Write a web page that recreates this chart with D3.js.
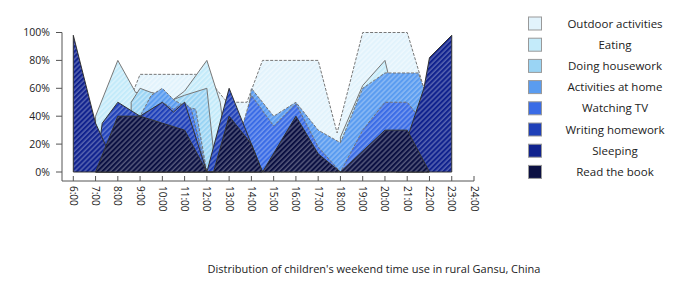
<!DOCTYPE html>
<html>
<head>
<meta charset="utf-8">
<script src="https://cdn.jsdelivr.net/npm/d3@7"></script>
<style>
  body { margin: 0; background: #fff; }
  text { font-family: "Open Sans", "Noto Sans", sans-serif; fill: #222; }
</style>
</head>
<body>
<div class="svg"></div>
<script>
// categories, back to front
var categories = ["Outdoor activities", "Eating", "Doing housework", "Activities at home",
    "Watching TV", "Writing homework", "Sleeping", "Read the book"];
var hourTicks = [6, 7, 8, 9, 10, 11, 12, 13, 14, 15, 16, 17, 18, 19, 20, 21, 22, 23, 24];
var hourLabels = ["6:00", "7:00", "8:00", "9:00", "10:00", "11:00", "12:00", "13:00", "14:00",
    "15:00", "16:00", "17:00", "18:00", "19:00", "20:00", "21:00", "22:00", "23:00", "24:00"];
var pctTicks = [0, 20, 40, 60, 80, 100];

// [hour, percent of children]; null splits a series
var outdoor = [[8.7, 0], [8.7, 58], [9, 70], [11.5, 70], [12, 68], [12.8, 52], [13, 50], [13.8, 50],
    [14.5, 80], [17, 80], [17.85, 28], [19, 100], [21, 100], [21.75, 60], [22, 0]];
var eating = [[7, 0], [7, 40], [8, 80], [8.8, 57], [9.5, 57], [10.5, 52], [11, 58], [12, 80],
    [12.6, 50], [13, 0], null, [18, 0], [18, 25], [19, 62], [20, 80], [20.15, 70], [20.15, 0]];
var housework = [[8.6, 0], [8.6, 50], [9, 60], [9.5, 57], [10, 55], [10.5, 52], [11, 55], [12, 60],
    [12.3, 15], [12.4, 0]];
var homeActs = [[8.5, 0], [8.5, 42], [9, 40], [9.5, 55], [10, 60], [10.5, 52], [11, 47], [11.5, 45],
    [12, 0], null, [13.5, 0], [14, 60], [15, 40], [16, 50], [17, 30], [18, 21], [19, 60], [20, 71],
    [21.5, 71], [21.75, 60], [21.75, 0]];
var tv = [[7.5, 0], [8, 40], [9, 40], [10, 50], [10.5, 45], [11, 50], [11.3, 45], [12, 0], null,
    [13, 0], [14, 55], [15, 33], [16, 49], [17, 18], [18, 0], [19, 30], [20, 50], [21, 50], [21.5, 40],
    [21.75, 30], [21.75, 0]];
var homework = [[7, 0], [7.3, 35], [8, 50], [9, 40], [10, 50], [10.5, 43], [11, 50], [12, 0],
    [13, 60], [14.5, 0]];
var sleeping = [[6, 0], [6, 98], [7, 35], [8, 0], null, [20.5, 0], [21.75, 60], [22, 82], [23, 98], [23, 0]];
var reading = [[7, 0], [8, 40], [9, 40], [10, 35], [11, 30], [12, 0], [12.3, 0], [13, 40], [14, 20],
    [14.5, 0], [16, 40], [17, 13], [18, 0], [20, 30], [21, 30], [22, 0]];

var seriesList = [outdoor, eating, housework, homeActs, tv, homework, sleeping, reading];
var fills = ["#e2f3fc", "#c4ebfa", "#9ad4f4", "#5a9cf0", "#3a6ce6", "#1f40b8", "#10228e", "#0b1042"];
var dashed = [true, false, false, true, true, false, false, false];

var width = 700, height = 287;

var svg = d3.select('div.svg')
    .append('svg')
    .attr('width', width)
    .attr('height', height);

var x = d3.scaleLinear().domain([6, 24]).range([73.3, 474]);
var y = d3.scaleLinear().domain([0, 100]).range([172, 32.5]);

// hatch patterns
var defs = svg.append('defs');
fills.forEach(function (c, i) {
    var p = defs.append('pattern')
        .attr('id', 'hatch' + i)
        .attr('patternUnits', 'userSpaceOnUse')
        .attr('width', 3.6)
        .attr('height', 3.6)
        .attr('patternTransform', 'rotate(45)');
    p.append('rect').attr('width', 3.6).attr('height', 3.6).attr('fill', c);
    p.append('line')
        .attr('x1', 1).attr('y1', 0).attr('x2', 1).attr('y2', 3.6)
        .attr('stroke', '#fff')
        .attr('stroke-width', 1)
        .attr('stroke-opacity', i < 3 ? 0.6 : 0.45);
});

var area = d3.area()
    .defined(d => d != null)
    .x(d => x(d[0]))
    .y0(y(0))
    .y1(d => y(d[1]));

svg.append('g').selectAll('path')
    .data(seriesList)
    .enter()
    .append('path')
    .attr('d', area)
    .attr('fill', (d, i) => 'url(#hatch' + i + ')')
    .attr('stroke', (d, i) => i < 5 ? '#777' : '#333')
    .attr('stroke-width', 1)
    .attr('stroke-dasharray', (d, i) => dashed[i] ? '3,1.5' : null)
    .attr('stroke-linejoin', 'round');

// y axis
var yAxis = svg.append('g');
yAxis.append('line')
    .attr('x1', 62).attr('x2', 62)
    .attr('y1', y(100)).attr('y2', 181)
    .attr('stroke', '#555');
yAxis.selectAll('.ytick')
    .data(pctTicks)
    .enter()
    .append('line')
    .attr('x1', 56).attr('x2', 62)
    .attr('y1', d => y(d)).attr('y2', d => y(d))
    .attr('stroke', '#555');
yAxis.selectAll('text')
    .data(pctTicks)
    .enter()
    .append('text')
    .attr('x', 50)
    .attr('y', d => y(d) + 3.5)
    .attr('text-anchor', 'end')
    .attr('font-size', 10.5)
    .text(d => d + '%');

// x axis
var xAxis = svg.append('g');
xAxis.append('line')
    .attr('x1', 62).attr('x2', x(24))
    .attr('y1', 181).attr('y2', 181)
    .attr('stroke', '#555');
xAxis.selectAll('.xtick')
    .data(hourTicks)
    .enter()
    .append('line')
    .attr('x1', d => x(d)).attr('x2', d => x(d))
    .attr('y1', 176).attr('y2', 181)
    .attr('stroke', '#555');
xAxis.selectAll('text')
    .data(hourTicks)
    .enter()
    .append('text')
    .attr('font-size', 10)
    .attr('transform', d => 'translate(' + (x(d) - 3.5) + ',186) rotate(90)')
    .text((d, i) => hourLabels[i]);

// legend
var legend = svg.append('g');
legend.selectAll('rect')
    .data(categories)
    .enter()
    .append('rect')
    .attr('x', 528.5)
    .attr('y', (d, i) => 17 + i * 21.2)
    .attr('width', 13)
    .attr('height', 13)
    .attr('fill', (d, i) => fills[i])
    .attr('stroke', '#999')
    .attr('stroke-width', 1);
legend.selectAll('text')
    .data(categories)
    .enter()
    .append('text')
    .attr('x', 615)
    .attr('y', (d, i) => 27.5 + i * 21.2)
    .attr('text-anchor', 'middle')
    .attr('font-size', 11.5)
    .text(d => d);

svg.append('text')
    .attr('x', 374)
    .attr('y', 273)
    .attr('text-anchor', 'middle')
    .attr('font-size', 11)
    .text("Distribution of children's weekend time use in rural Gansu, China");
</script>
</body>
</html>
